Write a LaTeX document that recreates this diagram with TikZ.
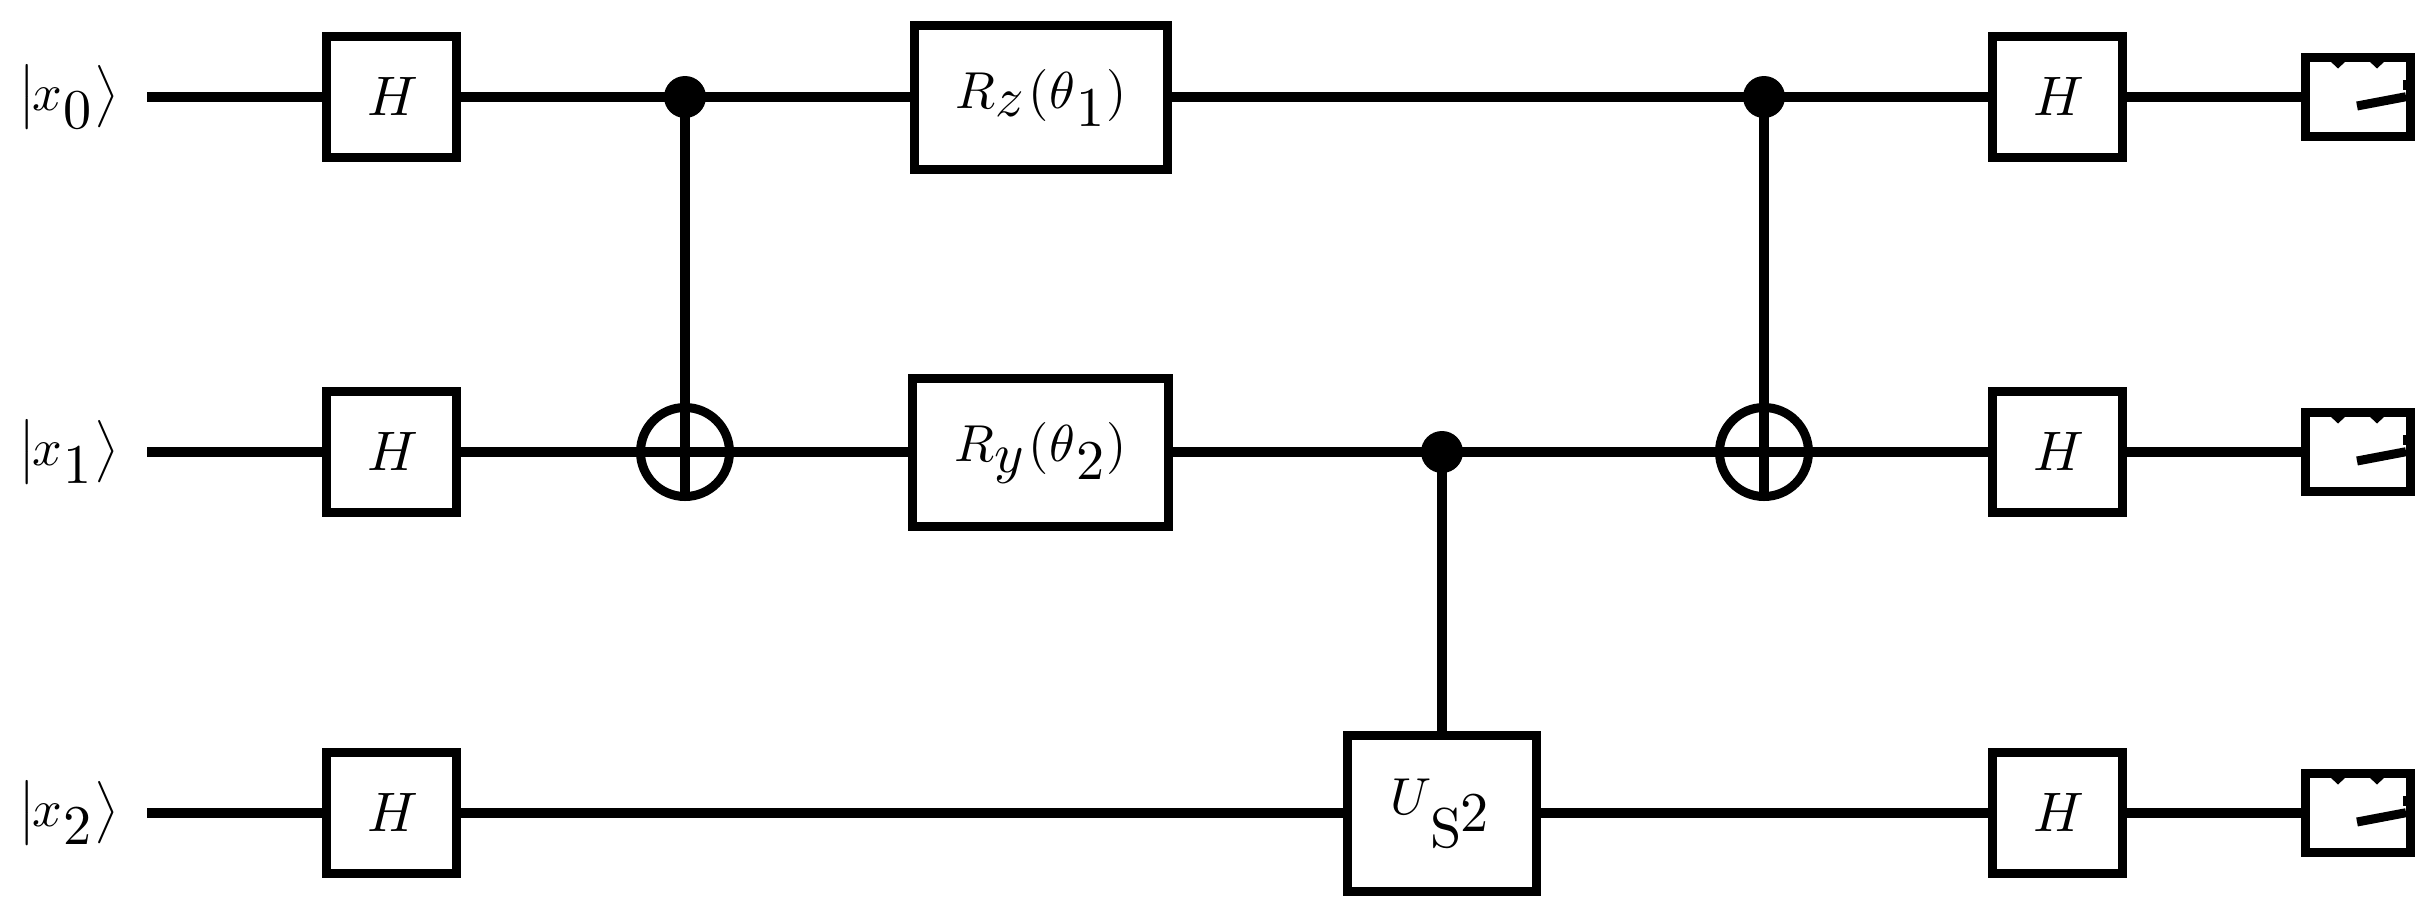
\documentclass[tikz,border=0pt]{standalone}
\newcommand{\lowr}[2]{\raisebox{-#1pt}{\scalebox{1.08}{$#2$}}}
\newcommand{\glabel}[2]{\scalebox{5.2}{\smash{\raisebox{-#1pt}{#2}}}}
\newcommand{\ketlabel}[1]{\glabel{2.5}{$\big|$\kern-0.6pt$x$\kern0.1pt\lowr{3.5}{#1}\kern0.7pt$\big\rangle$}}
\newcommand{\hlabel}{\kern3pt\scalebox{1.07}{\glabel{3.4}{$H$}}}
\tikzset{
  wire/.style={line width=10pt},
  vwire/.style={line width=10pt},
  needle/.style={line width=9pt},
  gate/.style={draw,line width=9pt,rectangle,inner sep=0pt},
  hgate/.style={gate,minimum width=130pt,minimum height=121pt},
  meterbox/.style={gate,minimum width=105pt,minimum height=79pt},
  ctrl/.style={circle,fill=black,inner sep=0pt,minimum size=42pt,outer sep=0pt},
  targ/.style={circle,draw,line width=9pt,inner sep=0pt,minimum size=89pt},
  ketnode/.style={inner sep=0pt}
}
\begin{document}
\begin{tikzpicture}[x=1pt,y=-1pt]
\useasboundingbox (0,0) rectangle (2431,916);
% inputs
\node[ketnode] (k0) at (69,97) {\ketlabel{0}};
\node[ketnode] (k1) at (69,452) {\ketlabel{1}};
\node[ketnode] (k2) at (69,813) {\ketlabel{2}};
\coordinate (s0) at (147,97);
\coordinate (s1) at (147,452);
\coordinate (s2) at (147,813);
% gates
\foreach \r/\y in {0/97,1/452,2/813}{
  \node[hgate] (hl\r) at (391.5,\y) {\hlabel};
  \node[hgate] (hr\r) at (2057.5,\y) {\hlabel};
  \node[meterbox] (m\r) at (2358,\y) {};
}
\node[gate,minimum width=253pt,minimum height=144pt] (rz) at (1041,97)
  {\glabel{2.2}{$R$\lowr{1.6}{z}\kern0.8pt$($\kern0.3pt$\theta$\kern0.2pt\lowr{3.5}{1}\kern0.3pt$)$}};
\node[gate,minimum width=256pt,minimum height=148pt] (ry) at (1040.5,452)
  {\glabel{1.9}{$R$\lowr{2}{y}\kern0.8pt$($\kern0.3pt$\theta$\kern0.2pt\lowr{3.3}{2}\kern0.3pt$)$}};
\node[gate,minimum width=189pt,minimum height=156pt] (us) at (1442,813)
  {\kern-5pt\glabel{0.3}{$U$\kern-0.3pt\lowr{6.4}{\mathrm{S}}\kern-0.3pt\lowr{3.2}{2}}};
\node[ctrl] (c0) at (685,97) {};
\node[ctrl] (c1) at (1764,97) {};
\node[ctrl] (c2) at (1442,452) {};
\node[targ] (t0) at (685,452) {};
\node[targ] (t1) at (1764,452) {};
% wires
\draw[wire] (s0) -- (hl0);
\draw[wire] (hl0) -- (c0.center);
\draw[wire] (c0.center) -- (rz);
\draw[wire] (rz) -- (c1.center);
\draw[wire] (c1.center) -- (hr0);
\draw[wire] (hr0) -- (m0);
\draw[wire] (s1) -- (hl1);
\draw[wire] (hl1) -- (t0.center);
\draw[wire] (t0.center) -- (ry);
\draw[wire] (ry) -- (c2.center);
\draw[wire] (c2.center) -- (t1.center);
\draw[wire] (t1.center) -- (hr1);
\draw[wire] (hr1) -- (m1);
\draw[wire] (s2) -- (hl2);
\draw[wire] (hl2) -- (us);
\draw[wire] (us) -- (hr2);
\draw[wire] (hr2) -- (m2);
\draw[vwire] (c0.center) -- (t0.south);
\draw[vwire] (c1.center) -- (t1.south);
\draw[vwire] (c2.center) -- (us);
% meter details
\foreach \m in {m0,m1,m2}{
  \begin{scope}[shift={(\m.center)}]
    \draw[needle] (-1,9) -- (48,-0.3);
    \fill (45,-17) -- (48,-17) -- (48,-7) -- (45,-7) -- cycle;
    \fill (-28,-36) -- (-12,-36) -- (-20,-28.5) -- cycle;
    \fill (11,-36) -- (27,-36) -- (19,-28.5) -- cycle;
  \end{scope}
}
\end{tikzpicture}
\end{document}
